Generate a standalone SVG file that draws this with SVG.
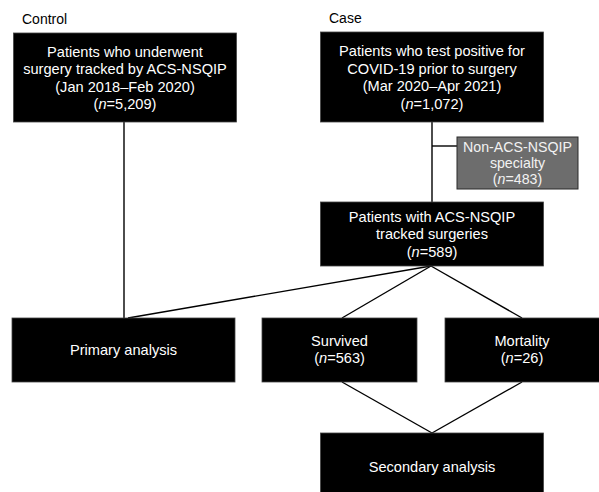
<svg xmlns="http://www.w3.org/2000/svg" width="599" height="492" viewBox="0 0 599 492">
<style>
text{font-family:"Liberation Sans",Arial,sans-serif;font-size:14.6px;fill:#ffffff;text-anchor:middle}
.lbl{fill:#000000;text-anchor:start;font-size:14px}
.box{fill:#000000;stroke:#444444;stroke-width:0.8}
.grey{fill:#6d6d6d;stroke:#2a2a2a;stroke-width:1}
.gt{fill:#f2f2f2;font-size:14.2px}
.ln{fill:none;stroke:#000000;stroke-width:1.4}
.it{font-style:italic}
</style>
<rect width="599" height="492" fill="#ffffff"/>
<text class="lbl" x="22" y="24">Control</text>
<text class="lbl" x="329" y="23">Case</text>
<g id="connectors">
<line class="ln" x1="124" y1="122" x2="124" y2="318"/>
<line class="ln" x1="432" y1="122" x2="432" y2="202"/>
<line class="ln" x1="432" y1="146" x2="457" y2="146"/>
<line class="ln" x1="431" y1="266" x2="128" y2="318"/>
<line class="ln" x1="431" y1="266" x2="342" y2="318"/>
<line class="ln" x1="431" y1="266" x2="522" y2="318"/>
<line class="ln" x1="342" y1="382" x2="432" y2="433"/>
<line class="ln" x1="522" y1="382" x2="432" y2="433"/>
</g>
<g id="control">
<rect class="box" x="13.5" y="33" width="223" height="89"/>
<text x="125" y="56.5">Patients who underwent</text>
<text x="125" y="74">surgery tracked by ACS-NSQIP</text>
<text x="125" y="91.5">(Jan 2018–Feb 2020)</text>
<text x="125" y="109">(<tspan class="it">n</tspan>=5,209)</text>
</g>
<g id="case">
<rect class="box" x="320.5" y="32" width="223" height="90"/>
<text x="432" y="56">Patients who test positive for</text>
<text x="432" y="73.5">COVID-19 prior to surgery</text>
<text x="432" y="91">(Mar 2020–Apr 2021)</text>
<text x="432" y="108.5">(<tspan class="it">n</tspan>=1,072)</text>
</g>
<g id="excluded">
<rect class="grey" x="457" y="137" width="121" height="52"/>
<text class="gt" x="517.5" y="152">Non-ACS-NSQIP</text>
<text class="gt" x="517.5" y="168">specialty</text>
<text class="gt" x="517.5" y="184">(<tspan class="it">n</tspan>=483)</text>
</g>
<g id="tracked">
<rect class="box" x="320.5" y="202" width="223" height="64"/>
<text x="432" y="221.5">Patients with ACS-NSQIP</text>
<text x="432" y="239">tracked surgeries</text>
<text x="432" y="256.5">(<tspan class="it">n</tspan>=589)</text>
</g>
<g id="primary">
<rect class="box" x="12" y="318" width="223" height="64"/>
<text x="123.5" y="355">Primary analysis</text>
</g>
<g id="survived">
<rect class="box" x="262" y="318" width="155" height="64"/>
<text x="339.5" y="346">Survived</text>
<text x="339.5" y="363">(<tspan class="it">n</tspan>=563)</text>
</g>
<g id="mortality">
<rect class="box" x="445" y="318" width="156" height="64"/>
<text x="522" y="346">Mortality</text>
<text x="522" y="363">(<tspan class="it">n</tspan>=26)</text>
</g>
<g id="secondary">
<rect class="box" x="320.5" y="433" width="223" height="62"/>
<text x="432" y="472">Secondary analysis</text>
</g>
</svg>
